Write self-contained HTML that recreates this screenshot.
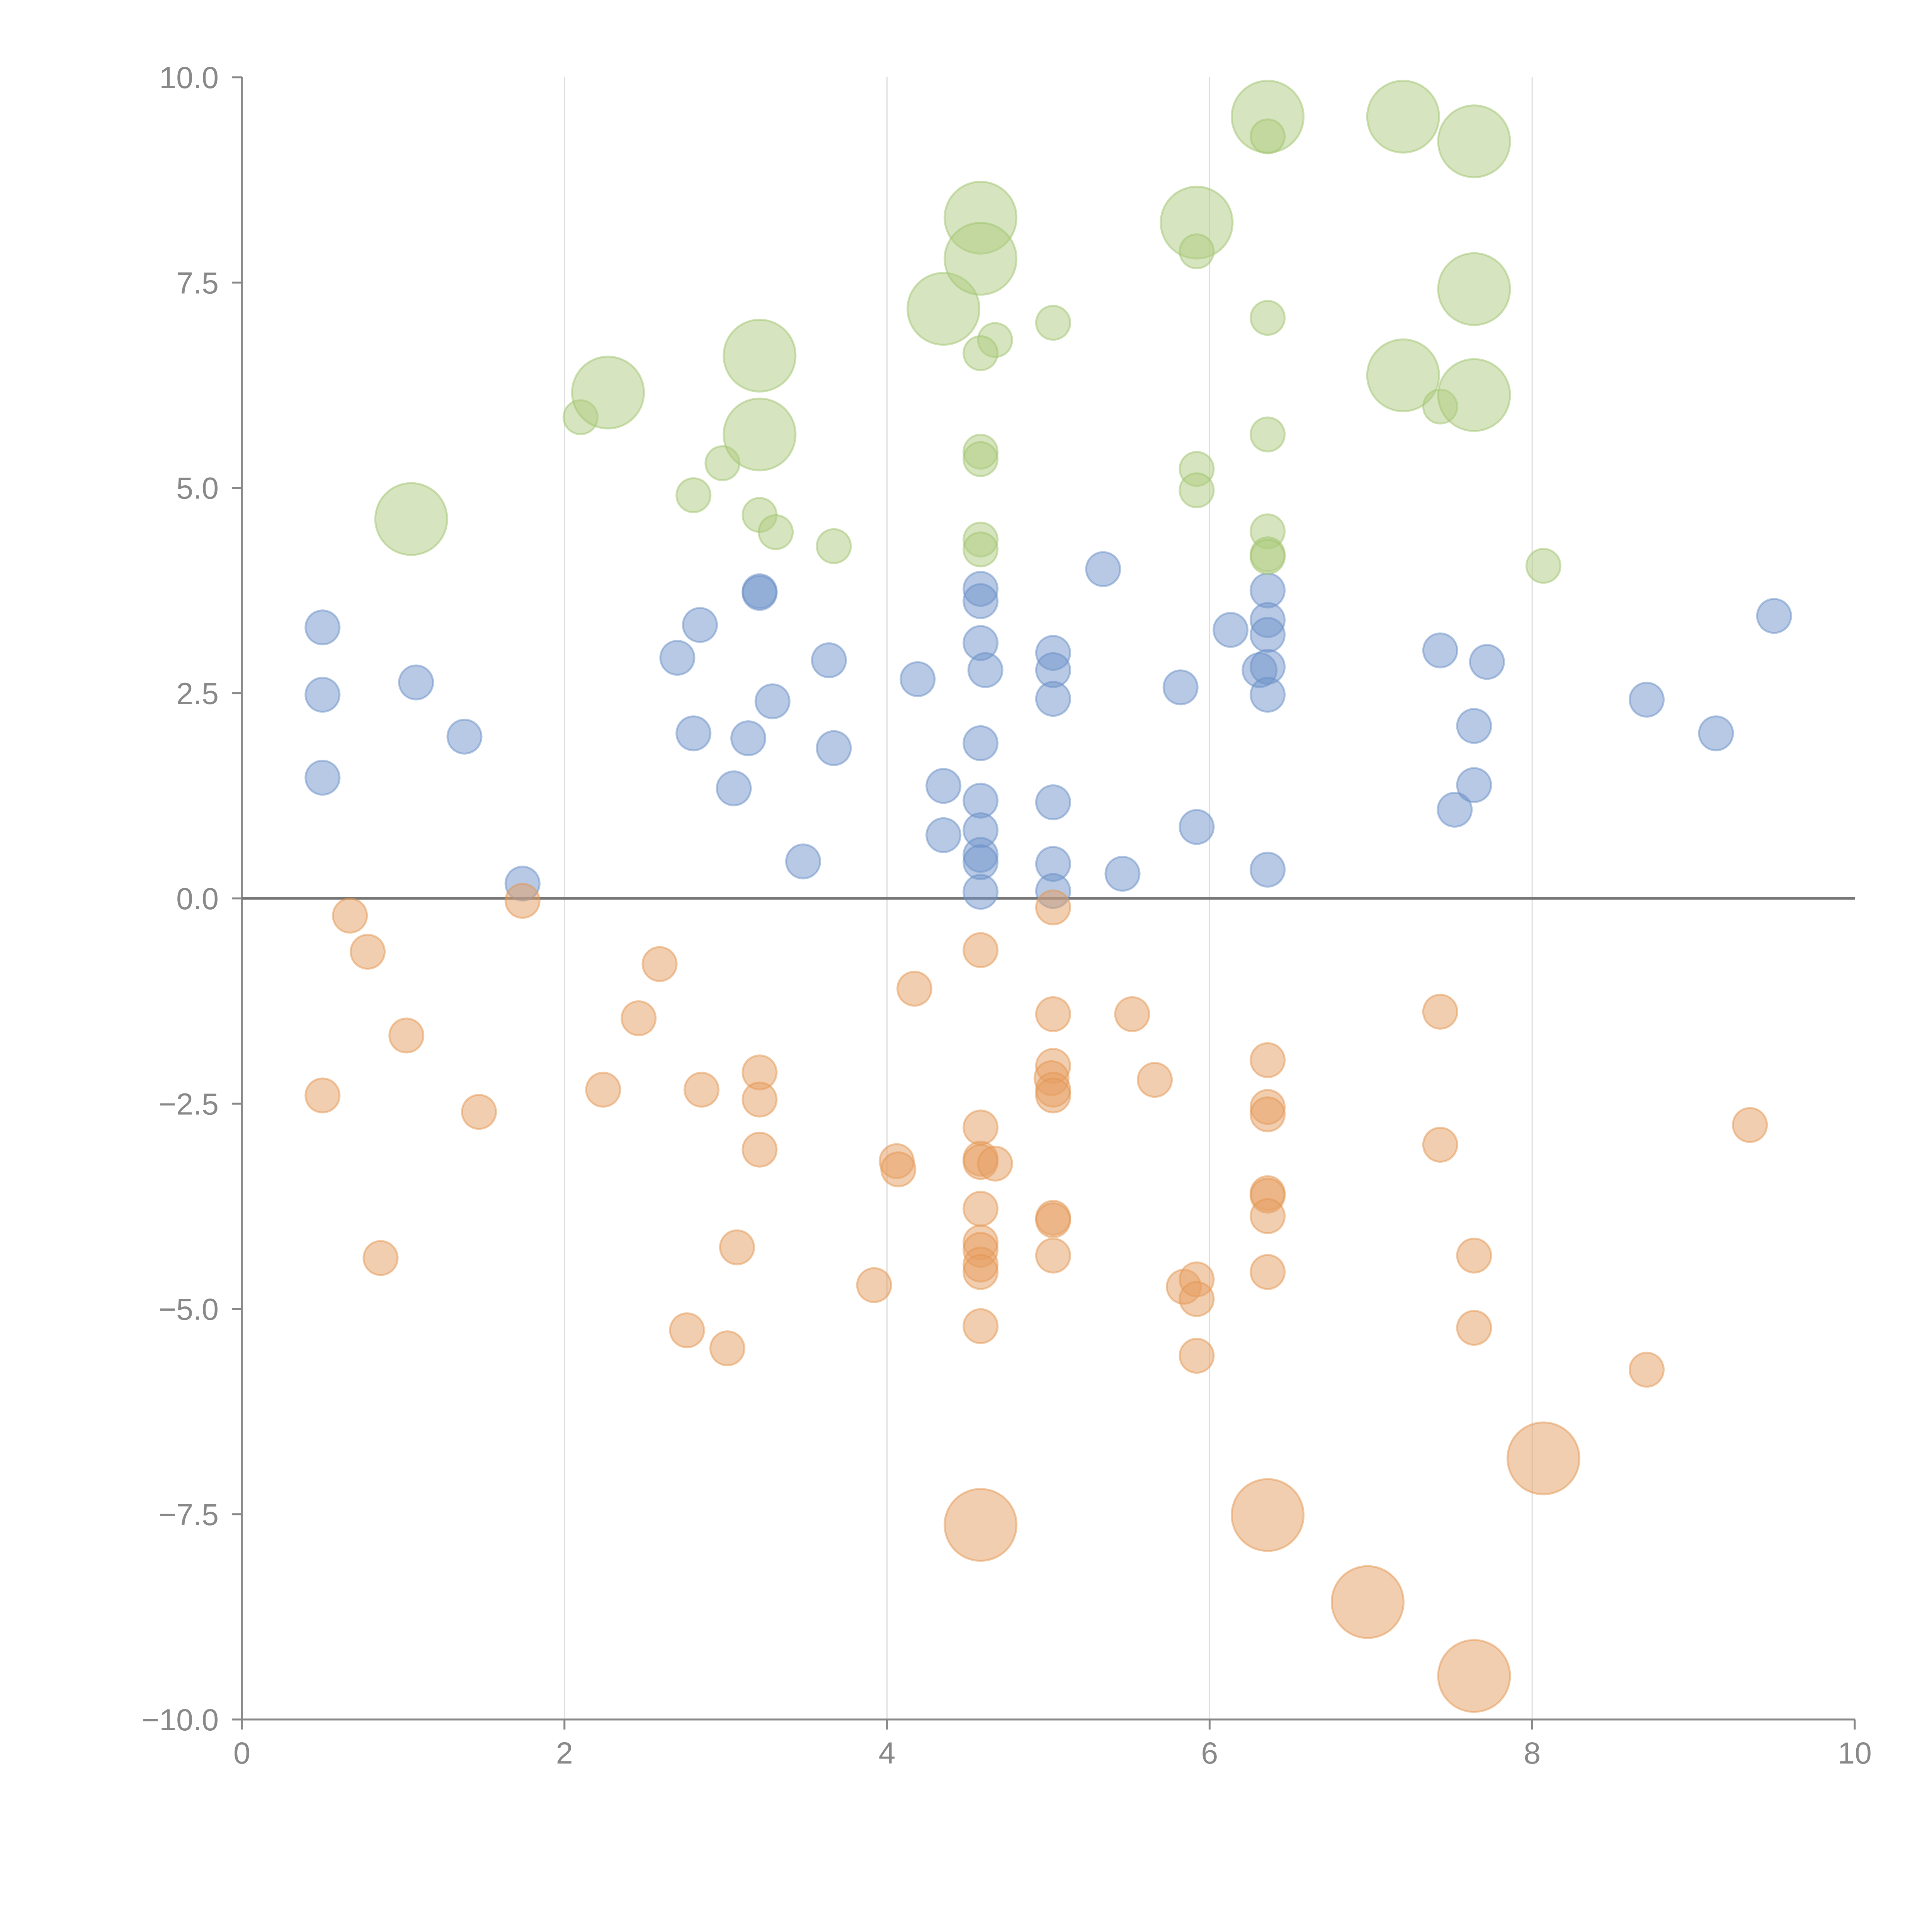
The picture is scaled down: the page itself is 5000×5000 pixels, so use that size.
<!DOCTYPE html>
<html><head><meta charset="utf-8"><style>
html,body{margin:0;padding:0;background:#fff;}
svg{display:block;font-family:"Liberation Sans",Arial,sans-serif;}
</style></head><body>
<svg id="chart" width="5000" height="5000" viewBox="0 0 5000 5000" xmlns="http://www.w3.org/2000/svg">
<g id="grid"></g>
<g id="axes"></g>
<g id="marks"></g>
</svg>
<script>
const xTicks=[0,2,4,6,8,10];
const xTickLabels=["0","2","4","6","8","10"];
const yTicks=[10,7.5,5,2.5,0,-2.5,-5,-7.5,-10];
const yTickLabels=["10.0","7.5","5.0","2.5","0.0","\u22122.5","\u22125.0","\u22127.5","\u221210.0"];

const blueX=[.50,.50,.50,1.08,1.38,1.74,2.70,2.84,2.80,3.05,3.14,3.21,3.21,3.29,3.48,3.64,3.67,4.19,4.35,4.35,4.58,4.58,4.58,4.61,4.58,4.58,4.58,4.58,4.58,4.58,5.03,5.03,5.03,5.03,5.03,5.03,5.34,5.46,5.82,5.92,6.13,6.31,6.36,6.36,6.36,6.36,6.36,6.36,7.43,7.52,7.64,7.64,7.72,8.71,9.14,9.50];
const blueY=[3.30,2.48,1.47,2.63,1.97,.18,2.93,3.33,2.01,1.34,1.95,3.74,3.72,2.40,.45,2.90,1.83,2.67,1.37,.77,3.77,3.62,3.11,2.78,1.89,1.19,.83,.53,.44,.08,2.99,2.78,2.43,1.17,.42,.09,4.01,.30,2.57,.87,3.27,2.78,3.75,3.39,3.21,2.82,2.48,.35,3.02,1.08,2.10,1.38,2.88,2.42,2.01,3.44];

const greenX=[1.05,2.10,2.27,2.80,2.98,3.21,3.21,3.21,3.31,3.67,4.35,4.58,4.58,4.67,4.58,4.58,4.58,4.58,4.58,5.03,5.92,5.92,5.92,5.92,6.36,6.36,6.36,6.36,6.36,6.36,6.36,7.20,7.20,7.43,7.64,7.64,7.64,8.07];
const greenY=[4.62,5.86,6.16,4.91,5.30,6.61,5.65,4.67,4.46,4.29,7.18,8.29,7.79,6.80,6.64,5.44,5.35,4.37,4.25,7.01,8.23,7.88,5.23,4.97,9.52,9.28,7.07,5.65,4.47,4.19,4.16,9.52,6.37,5.99,9.22,7.42,6.13,4.05];
const greenSize=[2,1,2,1,1,2,2,1,1,1,2,2,2,1,1,1,1,1,1,1,2,1,1,1,2,1,1,1,1,1,1,2,2,1,2,2,2,1];

const orangeX=[.50,.67,.78,.86,1.02,1.47,1.74,2.24,2.46,2.59,2.76,2.85,3.01,3.07,3.21,3.21,3.21,3.92,4.06,4.07,4.17,4.58,4.58,4.58,4.58,4.67,4.58,4.58,4.58,4.58,4.58,4.58,4.58,5.03,5.03,5.03,5.02,5.03,5.03,5.03,5.03,5.03,5.52,5.66,5.84,5.92,5.92,5.92,6.36,6.36,6.36,6.36,6.36,6.36,6.36,6.36,6.98,7.43,7.43,7.64,7.64,7.64,8.07,8.71,9.35];
const orangeY=[-2.40,-.21,-.65,-4.38,-1.67,-2.60,-.03,-2.33,-1.46,-.80,-5.26,-2.33,-5.48,-4.25,-2.12,-2.45,-3.06,-4.71,-3.20,-3.30,-1.10,-.63,-2.79,-3.17,-3.21,-3.23,-3.78,-4.19,-4.28,-4.46,-4.55,-5.21,-7.63,-.11,-1.41,-2.04,-2.19,-2.33,-2.40,-3.89,-3.92,-4.35,-1.41,-2.21,-4.73,-4.64,-4.88,-5.57,-1.97,-2.54,-2.63,-3.59,-3.62,-3.87,-4.55,-7.51,-8.57,-1.38,-3.00,-4.35,-5.23,-9.47,-6.82,-5.74,-2.76];
const orangeSize=[1,1,1,1,1,1,1,1,1,1,1,1,1,1,1,1,1,1,1,1,1,1,1,1,1,1,1,1,1,1,1,1,2,1,1,1,1,1,1,1,1,1,1,1,1,1,1,1,1,1,1,1,1,1,1,2,2,1,1,1,1,2,2,1,1];

const NS="http://www.w3.org/2000/svg";
const X0=626,X1=4800,Y0=4450,Y1=200;
function sx(v){return X0+(v-0)/(10-0)*(X1-X0);}
function sy(v){return Y0-(v+10)/20*(Y0-Y1);}
function rs(s){return s===2?93:44;}
function mk(tag,attrs,parent){const e=document.createElementNS(NS,tag);for(const k in attrs)e.setAttribute(k,attrs[k]);parent.appendChild(e);return e;}
const grid=document.getElementById('grid'),axes=document.getElementById('axes'),marks=document.getElementById('marks');

xTicks.forEach((t,i)=>{
  if(t>0&&t<10){const g=mk('line',{x1:sx(t),x2:sx(t),y1:Y1,y2:Y0,stroke:'#dddddd','stroke-width':3},grid);
  
  }
  const tk=mk('line',{x1:sx(t),x2:sx(t),y1:Y0,y2:Y0+26,stroke:'#888','stroke-width':5},axes);
  
  
  const tx=mk('text',{x:sx(t),y:Y0+114,'text-anchor':'middle','font-size':79,fill:'#888'},axes);
  tx.textContent=xTickLabels[i];
  
  
});
yTicks.forEach((t,i)=>{
  const tk=mk('line',{x1:X0-26,x2:X0,y1:sy(t),y2:sy(t),stroke:'#888','stroke-width':5},axes);
  
  
  const tx=mk('text',{x:566,y:sy(t)+28,'text-anchor':'end','font-size':79,fill:'#888'},axes);
  tx.textContent=yTickLabels[i];
  
  
});
const ya=mk('line',{x1:X0,x2:X0,y1:Y1,y2:Y0,stroke:'#888','stroke-width':5},axes);


const xa=mk('line',{x1:X0,x2:X1,y1:Y0,y2:Y0,stroke:'#888','stroke-width':5},axes);


const zl=mk('line',{x1:X0,x2:X1,y1:sy(0),y2:sy(0),stroke:'#777','stroke-width':7},axes);



function series(xs,ys,sizes,fill,stroke,name){
  xs.forEach((x,i)=>{
    const c=mk('circle',{cx:sx(x),cy:sy(ys[i]),r:rs(sizes?sizes[i]:1),fill:fill,'fill-opacity':0.5,stroke:stroke,'stroke-opacity':0.5,'stroke-width':5},marks);
    
    
  });
}
series(blueX,blueY,null,'#6f93c9','#6a8fc8','bubble-blue');
series(greenX,greenY,greenSize,'#aecb80','#9fc46e','bubble-green');
series(orangeX,orangeY,orangeSize,'#e59e62','#e3954f','bubble-orange');
</script>
</body></html>
